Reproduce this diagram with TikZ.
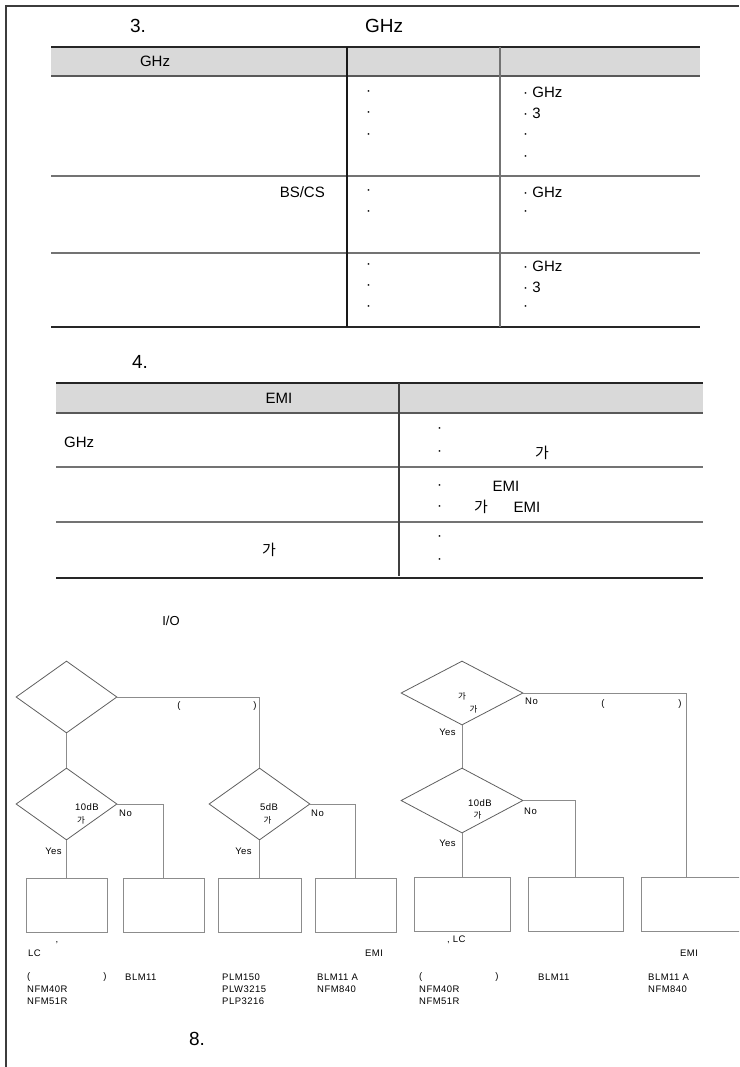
\documentclass[tikz,border=0pt]{standalone}
\usepackage{fontspec}
\setmainfont{Liberation Sans}
\newfontfamily\kr{Noto Sans CJK KR}
\newfontfamily\flfont[LetterSpace=5]{Liberation Sans}
\usetikzlibrary{shapes.geometric}
\definecolor{hdr}{RGB}{217,217,217}
\definecolor{bord}{RGB}{60,60,60}
\definecolor{sep}{RGB}{115,115,115}
\definecolor{dline}{RGB}{95,95,95}
\definecolor{fline}{RGB}{140,140,140}
\newcommand\kga{{\kr 가}}
\tikzset{
  ttl/.style={inner sep=0, font=\fontsize{19}{21}\selectfont},
  tc/.style={inner sep=0, font=\fontsize{15}{17}\selectfont},
  fl/.style={inner sep=0, font=\flfont\fontsize{9.5}{11}\selectfont},
  fk/.style={inner sep=0, font=\kr\fontsize{8.5}{10}\selectfont},
  dia/.style={diamond, draw=dline, line width=0.8pt, inner sep=0},
  fbox/.style={rectangle, draw=fline, line width=0.9pt, inner sep=0, minimum height=54pt},
  conn/.style={draw=fline, line width=0.9pt},
  thick1/.style={line width=2pt, draw=black!85},
  thick2/.style={line width=2pt, draw=black!65},
  rowsep/.style={line width=1.4pt, draw=sep},
}
\begin{document}
\begin{tikzpicture}[x=1pt,y=-1pt]
\useasboundingbox (0,0) rectangle (739,1067);
\clip (0,0) rectangle (739,1067);
% page border
\draw[bord, line width=1.5pt] (6,1067) |- (739,6);

% ---------- section 3 ----------
\node[ttl] (s3) at (138,26) {3.};
\node[ttl] (s3g) at (384,26) {GHz};

\fill[hdr] (51,47) rectangle (700,76);
\draw[thick1] (51,47) -- (700,47);
\draw[thick2] (51,76) -- (700,76);
\draw[rowsep] (51,176) -- (700,176);
\draw[rowsep] (51,253) -- (700,253);
\draw[line width=1.4pt, black!85] (51,327) -- (700,327);
\draw[line width=1.2pt, black!90] (347,47) -- (347,327);
\draw[line width=1.2pt, sep] (500,47) -- (500,327);

\node[tc] (h1) at (155,61) {GHz};
\node[tc,anchor=west] (a1) at (366,93) {·};
\node[tc,anchor=west] (a2) at (366,114) {·};
\node[tc,anchor=west] (a3) at (366,136) {·};
\node[tc,anchor=west] (b1) at (523,92) {· GHz};
\node[tc,anchor=west] (b2) at (523,113) {· 3};
\node[tc,anchor=west] (b3) at (523,136) {·};
\node[tc,anchor=west] (b4) at (523,158) {·};

\node[tc,anchor=east] (bs) at (325,192) {BS/CS};
\node[tc,anchor=west] (a4) at (366,192) {·};
\node[tc,anchor=west] (a5) at (366,213) {·};
\node[tc,anchor=west] (b5) at (523,192) {· GHz};
\node[tc,anchor=west] (b6) at (523,213) {·};

\node[tc,anchor=west] (a6) at (366,266) {·};
\node[tc,anchor=west] (a7) at (366,287) {·};
\node[tc,anchor=west] (a8) at (366,308) {·};
\node[tc,anchor=west] (b7) at (523,266) {· GHz};
\node[tc,anchor=west] (b8) at (523,287) {· 3};
\node[tc,anchor=west] (b9) at (523,308) {·};

% ---------- section 4 ----------
\node[ttl] (s4) at (140,362) {4.};
\fill[hdr] (56,383) rectangle (703,413);
\draw[thick1] (56,383) -- (703,383);
\draw[thick2] (56,413) -- (703,413);
\draw[rowsep] (56,467) -- (703,467);
\draw[rowsep] (56,522) -- (703,522);
\draw[line width=1.4pt, black!85] (56,578) -- (703,578);
\draw[line width=1.3pt, black!75] (399,383) -- (399,576);

\node[tc] (h2) at (279,398) {EMI};
\node[tc,anchor=west] (g1) at (64,442) {GHz};
\node[tc,anchor=west] (c1) at (437,430) {·};
\node[tc,anchor=west] (c2) at (437,453) {·};
\node[tc] (c3) at (542,453) {\kga};
\node[tc,anchor=west] (c4) at (437,487) {·};
\node[tc] (c5) at (506,486) {EMI};
\node[tc,anchor=west] (c6) at (437,508) {·};
\node[tc] (c7) at (481,507) {\kga};
\node[tc] (c8) at (527,507) {EMI};
\node[tc] (c9) at (269,550) {\kga};
\node[tc,anchor=west] (c10) at (437,538) {·};
\node[tc,anchor=west] (c11) at (437,561) {·};

% ---------- flowchart ----------
\node[inner sep=0, font=\fontsize{13}{15}\selectfont] (io) at (171,621) {I/O};

\node[dia, minimum width=101pt, minimum height=72pt] (d1) at (66.5,697) {};
\node[dia, minimum width=101pt, minimum height=72pt] (d2) at (66.5,804) {};
\node[dia, minimum width=101pt, minimum height=72pt] (d3) at (259.5,804) {};
\node[dia, minimum width=122pt, minimum height=64pt] (d4) at (462,693) {};
\node[dia, minimum width=122pt, minimum height=65pt] (d5) at (462,800.5) {};

\node[fbox, minimum width=81pt] (x1) at (66.5,905) {};
\node[fbox, minimum width=81pt] (x2) at (163.5,905) {};
\node[fbox, minimum width=83pt] (x3) at (259.5,905) {};
\node[fbox, minimum width=81pt] (x4) at (355.5,905) {};
\node[fbox, minimum width=96pt] (x5) at (462,904.5) {};
\node[fbox, minimum width=95pt] (x6) at (575.5,904.5) {};
\node[fbox, minimum width=104pt] (x7) at (693,904.5) {};

\draw[conn] (d1.east) -| (d3.north);
\draw[conn] (d1.south) -- (d2.north);
\draw[conn] (d2.south) -- (x1.north);
\draw[conn] (d2.east) -| (x2.north);
\draw[conn] (d3.south) -- (x3.north);
\draw[conn] (d3.east) -| (x4.north);
\draw[conn] (d4.east) -| ([xshift=-7pt]x7.north);
\draw[conn] (d4.south) -- (d5.north);
\draw[conn] (d5.south) -- (x5.north);
\draw[conn] (d5.east) -| (x6.north);

% flowchart labels
\node[fl] (p1) at (179,706) {(};
\node[fl] (p2) at (255,706) {)};
\node[fl] (t10a) at (87,807) {10dB};
\node[fk] (k1) at (81,820) {가};
\node[fl,anchor=west] (n1) at (119,813) {No};
\node[fl] (y1) at (53.5,851) {Yes};
\node[fl] (t5) at (269,807) {5dB};
\node[fk] (k2) at (267.5,820) {가};
\node[fl,anchor=west] (n2) at (311,813) {No};
\node[fl] (y2) at (243.5,851) {Yes};

\node[fk] (k3) at (462,696) {가};
\node[fk] (k4) at (473.5,709) {가};
\node[fl,anchor=west] (n3) at (525,701) {No};
\node[fl] (p3) at (603,704) {(};
\node[fl] (p4) at (680,704) {)};
\node[fl] (y3) at (447.5,732) {Yes};
\node[fl] (t10b) at (480,803) {10dB};
\node[fk] (k5) at (477.5,815) {가};
\node[fl,anchor=west] (n4) at (524,811) {No};
\node[fl] (y4) at (447.5,843) {Yes};

% labels under boxes
\node[fl] (cm1) at (57,943) {,};
\node[fl,anchor=west] (lc1) at (28,953) {LC};
\node[fl,anchor=west] (q1) at (27,977) {(};
\node[fl] (q2) at (105,977) {)};
\node[fl,anchor=west] (m1) at (27,989) {NFM40R};
\node[fl,anchor=west] (m2) at (27,1001) {NFM51R};
\node[fl,anchor=west] (m3) at (125,977) {BLM11};
\node[fl,anchor=west] (m4) at (222,977) {PLM150};
\node[fl,anchor=west] (m5) at (222,989) {PLW3215};
\node[fl,anchor=west] (m6) at (222,1001) {PLP3216};
\node[fl] (e1) at (374,953) {EMI};
\node[fl,anchor=west] (m7) at (317,977) {BLM11 A};
\node[fl,anchor=west] (m8) at (317,989) {NFM840};

\node[fl,anchor=west] (lc2) at (447,940) {, LC};
\node[fl,anchor=west] (q3) at (419,977) {(};
\node[fl] (q4) at (497,977) {)};
\node[fl,anchor=west] (m9) at (419,989) {NFM40R};
\node[fl,anchor=west] (m10) at (419,1001) {NFM51R};
\node[fl,anchor=west] (m11) at (538,977) {BLM11};
\node[fl] (e2) at (689,953) {EMI};
\node[fl,anchor=west] (m12) at (648,977) {BLM11 A};
\node[fl,anchor=west] (m13) at (648,989) {NFM840};

\node[ttl] (s8) at (197,1039) {8.};
\end{tikzpicture}
\end{document}
